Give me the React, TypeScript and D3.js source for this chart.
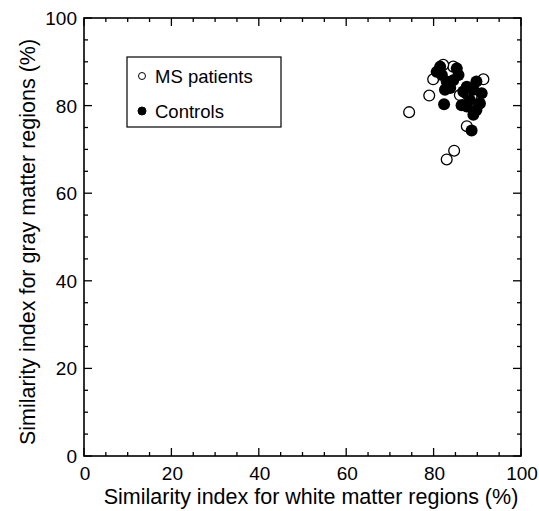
import { useEffect, useRef } from 'react';
import * as d3 from 'd3';

// [white matter %, gray matter %]
const msPatients: [number, number][] = [
  [74.4, 78.5], [79.0, 82.3], [83.0, 67.7], [84.7, 69.7], [87.6, 75.3],
  [79.9, 86.0], [86.0, 82.4], [91.4, 86.0], [84.5, 88.9], [82.2, 89.3],
  [88.7, 82.0], [87.2, 83.0],
];

const controls: [number, number][] = [
  [82.4, 80.3], [88.7, 74.3], [81.5, 88.9], [81.9, 87.0], [80.7, 87.7],
  [83.0, 85.5], [85.3, 88.5], [85.7, 87.0], [83.8, 84.0], [82.6, 83.6],
  [87.6, 84.3], [89.8, 85.5], [91.0, 82.8], [88.3, 81.3], [87.6, 79.8],
  [89.8, 79.0], [89.1, 77.9], [90.6, 80.5], [86.8, 83.2], [89.1, 83.6],
  [86.4, 80.1], [84.5, 85.8],
];

const majorTicks = [0, 20, 40, 60, 80, 100];
const legendLabels = ['MS patients', 'Controls'];

const xTitle = 'Similarity index for white matter regions (%)';
const yTitle = 'Similarity index for gray matter regions (%)';

export default function App() {
  const svgRef = useRef<SVGSVGElement>(null);

  useEffect(() => {
    if (!svgRef.current) return;
    const svg = d3.select(svgRef.current);
    svg.selectAll('*').remove();

    const left = 84, right = 521, top = 18, bottom = 456;
    const font = 'Arial, "Liberation Sans", Helvetica, sans-serif';

    const x = d3.scaleLinear().domain([0, 100]).range([left, right]);
    const y = d3.scaleLinear().domain([0, 100]).range([bottom, top]);
    const minor = d3.range(0, 101, 5);

    // frame
    svg.append('rect')
      .attr('x', left).attr('y', top)
      .attr('width', right - left).attr('height', bottom - top)
      .attr('fill', 'none').attr('stroke', '#000').attr('stroke-width', 1.6);

    const tickLen = (v: number) => (v % 20 === 0 ? 8 : 4);
    const ticks = svg.append('g').attr('stroke', '#000').attr('stroke-width', 1.3);
    minor.forEach((v) => {
      const l = tickLen(v);
      ticks.append('line').attr('x1', x(v)).attr('x2', x(v)).attr('y1', bottom).attr('y2', bottom - l);
      ticks.append('line').attr('x1', x(v)).attr('x2', x(v)).attr('y1', top).attr('y2', top + l);
      ticks.append('line').attr('y1', y(v)).attr('y2', y(v)).attr('x1', left).attr('x2', left + l);
      ticks.append('line').attr('y1', y(v)).attr('y2', y(v)).attr('x1', right).attr('x2', right - l);
    });

    svg.append('g').selectAll('text').data(majorTicks).join('text')
      .attr('x', (d) => x(d) + 1).attr('y', bottom + 24)
      .attr('text-anchor', 'middle')
      .attr('font-family', font).attr('font-size', 19)
      .text((d) => d);

    svg.append('g').selectAll('text').data(majorTicks).join('text')
      .attr('x', left - 7).attr('y', (d) => y(d) + 7)
      .attr('text-anchor', 'end')
      .attr('font-family', font).attr('font-size', 19)
      .text((d) => d);

    svg.append('text')
      .attr('x', 311).attr('y', 504)
      .attr('text-anchor', 'middle')
      .attr('font-family', font).attr('font-size', 21.5)
      .text(xTitle);

    svg.append('text')
      .attr('transform', `translate(35,242) rotate(-90)`)
      .attr('text-anchor', 'middle')
      .attr('font-family', font).attr('font-size', 21.5)
      .text(yTitle);

    // points
    const pts = svg.append('g');
    pts.selectAll('circle.ms').data(msPatients).join('circle')
      .attr('class', 'ms')
      .attr('cx', (d) => x(d[0])).attr('cy', (d) => y(d[1])).attr('r', 5.4)
      .attr('fill', '#fff').attr('stroke', '#000').attr('stroke-width', 1.3);
    pts.selectAll('circle.ct').data(controls).join('circle')
      .attr('class', 'ct')
      .attr('cx', (d) => x(d[0])).attr('cy', (d) => y(d[1])).attr('r', 6)
      .attr('fill', '#000');

    // legend
    const lg = svg.append('g');
    lg.append('rect')
      .attr('x', 127).attr('y', 57).attr('width', 154).attr('height', 70)
      .attr('fill', '#fff').attr('stroke', '#000').attr('stroke-width', 1.2);
    legendLabels.forEach((label, i) => {
      const cy = 76 + i * 35;
      lg.append('circle')
        .attr('cx', 142).attr('cy', cy).attr('r', i === 0 ? 3.5 : 4)
        .attr('fill', i === 0 ? '#fff' : '#000')
        .attr('stroke', '#000').attr('stroke-width', 1);
      lg.append('text')
        .attr('x', 155).attr('y', cy + 7)
        .attr('font-family', font).attr('font-size', 18.5)
        .text(label);
    });
  }, []);

  return (
    <svg
      ref={svgRef}
      width={539}
      height={511}
      style={{ display: 'block', position: 'absolute', left: 0, top: 0 }}
    />
  );
}
